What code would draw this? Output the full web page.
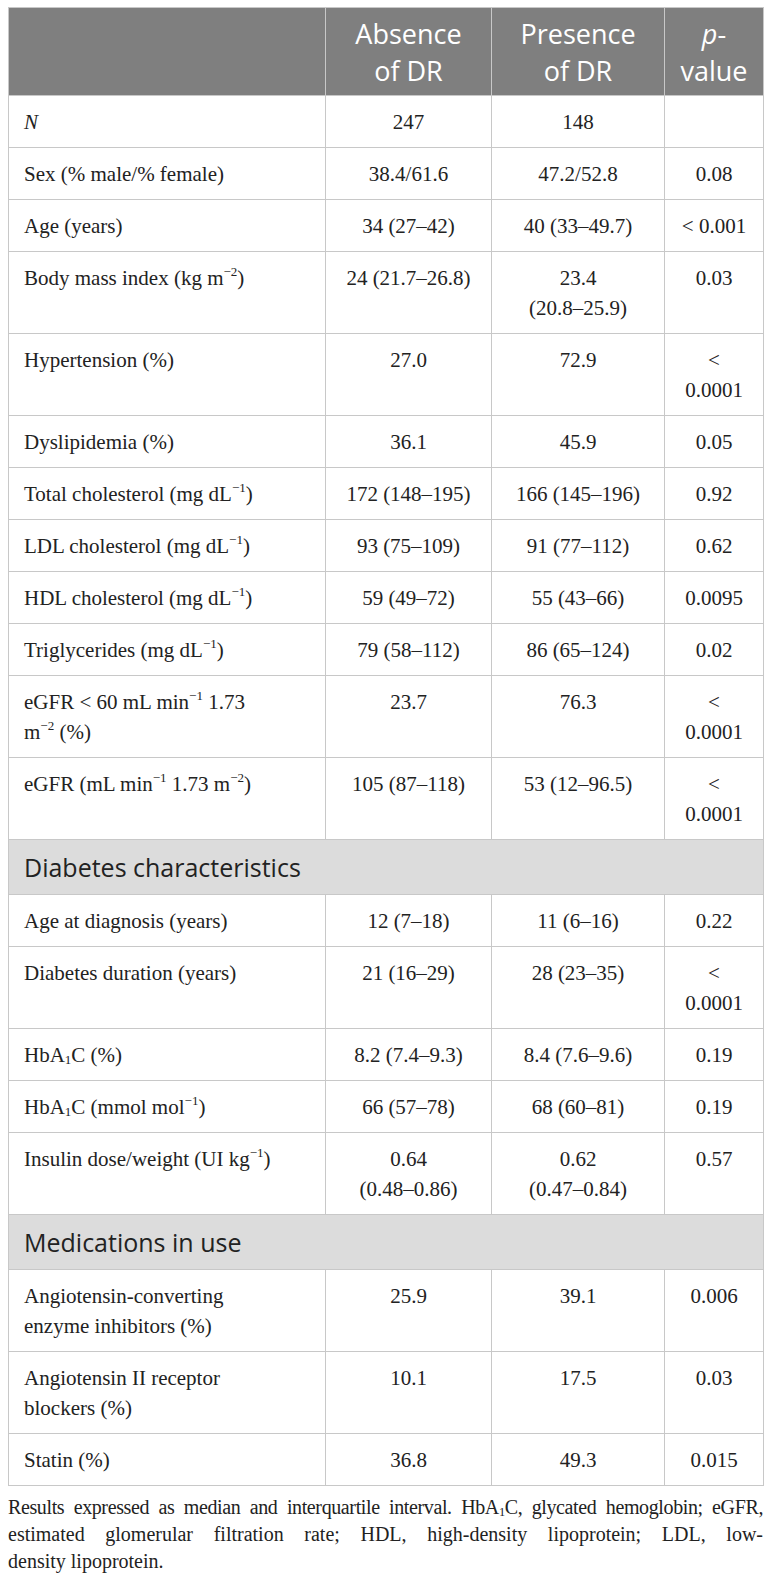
<!DOCTYPE html>
<html><head><meta charset="utf-8">
<script src="https://cdn.jsdelivr.net/npm/chart.js@4.4.0/dist/chart.umd.min.js"></script>
<style>
html,body{margin:0;padding:0;background:#fff;}
body{width:772px;height:1574px;overflow:hidden;}
table{border-collapse:collapse;margin:7px 0 0 8px;width:755px;table-layout:fixed;font-family:"Liberation Serif",serif;font-size:21px;color:#222;}
td,th{border:1px solid #c8c8c8;line-height:30px;padding:11px 14px 10px 14px;vertical-align:top;white-space:nowrap;}
thead th{background:#7f7f7f;color:#fff;font-family:"Open Sans",sans-serif;font-weight:400;font-size:27px;line-height:37px;padding:7px 2px 6px 2px;text-align:center;vertical-align:middle;}
td.v{text-align:center;}
td.lab{padding-left:15px;}
tr.sec td{background:#dcdcdc;font-family:"Open Sans",sans-serif;font-size:25px;line-height:35px;padding:10px 15px 9px 15px;color:#222;}
sup{font-size:0.62em;line-height:1;vertical-align:top;position:relative;top:2px;}
sub{font-size:0.62em;line-height:1;vertical-align:-0.15em;}
.note{margin:8px 0 0 8px;width:755px;font-family:"Liberation Serif",serif;font-size:20px;line-height:27px;color:#222;}
.note div{white-space:nowrap;}
.note .j{text-align:justify;text-align-last:justify;white-space:normal;}
.note .l1{letter-spacing:-0.38px;}
</style></head>
<body>
<table id="tbl">
<colgroup><col style="width:317px"><col style="width:166px"><col style="width:173px"><col style="width:99px"></colgroup>
<thead><tr id="hdr"></tr></thead>
<tbody id="body"></tbody>
</table>
<div class="note" id="note"></div>
<script>
// Column headers
const columnHeaders = ["", "Absence\nof DR", "Presence\nof DR", "*p*-\nvalue"];
// Section titles (index matches rowSection)
const sectionTitles = ["", "Diabetes characteristics", "Medications in use"];
// Row labels (^{..} superscript, _{..} subscript, *..* italic)
const rowLabels = [
  "*N*",
  "Sex (% male/% female)",
  "Age (years)",
  "Body mass index (kg m^{−2})",
  "Hypertension (%)",
  "Dyslipidemia (%)",
  "Total cholesterol (mg dL^{−1})",
  "LDL cholesterol (mg dL^{−1})",
  "HDL cholesterol (mg dL^{−1})",
  "Triglycerides (mg dL^{−1})",
  "eGFR < 60 mL min^{−1} 1.73\nm^{−2} (%)",
  "eGFR (mL min^{−1} 1.73 m^{−2})",
  "Age at diagnosis (years)",
  "Diabetes duration (years)",
  "HbA_{1}C (%)",
  "HbA_{1}C (mmol mol^{−1})",
  "Insulin dose/weight (UI kg^{−1})",
  "Angiotensin-converting\nenzyme inhibitors (%)",
  "Angiotensin II receptor\nblockers (%)",
  "Statin (%)"
];
const rowSection = [0,0,0,0,0,0,0,0,0,0,0,0,1,1,1,1,1,2,2,2];
// Absence of DR
const absenceDR = ["247","38.4/61.6","34 (27–42)","24 (21.7–26.8)","27.0","36.1","172 (148–195)","93 (75–109)","59 (49–72)","79 (58–112)","23.7","105 (87–118)","12 (7–18)","21 (16–29)","8.2 (7.4–9.3)","66 (57–78)","0.64\n(0.48–0.86)","25.9","10.1","36.8"];
// Presence of DR
const presenceDR = ["148","47.2/52.8","40 (33–49.7)","23.4\n(20.8–25.9)","72.9","45.9","166 (145–196)","91 (77–112)","55 (43–66)","86 (65–124)","76.3","53 (12–96.5)","11 (6–16)","28 (23–35)","8.4 (7.6–9.6)","68 (60–81)","0.62\n(0.47–0.84)","39.1","17.5","49.3"];
// p-values
const pValues = ["","0.08","< 0.001","0.03","<\n0.0001","0.05","0.92","0.62","0.0095","0.02","<\n0.0001","<\n0.0001","0.22","<\n0.0001","0.19","0.19","0.57","0.006","0.03","0.015"];
// Footnote lines
const footnoteLines = [
  "Results expressed as median and interquartile interval. HbA_{1}C, glycated hemoglobin; eGFR,",
  "estimated glomerular filtration rate; HDL, high-density lipoprotein; LDL, low-",
  "density lipoprotein."
];

function fmt(s){
  return s.replace(/&/g,"&amp;").replace(/</g,"&lt;").replace(/>/g,"&gt;")
    .replace(/\^\{([^}]*)\}/g,"<sup>$1</sup>")
    .replace(/_\{([^}]*)\}/g,"<sub>$1</sub>")
    .replace(/\*([^*]+)\*/g,"<i>$1</i>");
}
function fill(el,s){
  s.split("\n").forEach(part=>{const d=document.createElement('div');d.innerHTML=fmt(part)||"&#8203;";el.appendChild(d);});
}
const hdr=document.getElementById('hdr');
columnHeaders.forEach(h=>{const th=document.createElement('th');if(h)fill(th,h);hdr.appendChild(th);});
const body=document.getElementById('body');
let cur=0;
rowLabels.forEach((lab,i)=>{
  if(rowSection[i]!==cur){
    cur=rowSection[i];
    const tr=document.createElement('tr');tr.className='sec';
    const td=document.createElement('td');td.colSpan=4;td.textContent=sectionTitles[cur];
    tr.appendChild(td);body.appendChild(tr);
  }
  const tr=document.createElement('tr');
  const cells=[lab,absenceDR[i],presenceDR[i],pValues[i]];
  cells.forEach((c,j)=>{const td=document.createElement('td');td.className=j===0?'lab':'v';if(c)fill(td,c);tr.appendChild(td);});
  body.appendChild(tr);
});
const note=document.getElementById('note');
footnoteLines.forEach((ln,i)=>{
  const d=document.createElement('div');
  d.className = i===0 ? 'j l1' : (i===1 ? 'j' : '');
  d.innerHTML=fmt(ln);
  note.appendChild(d);
});
</script>
</body></html>
